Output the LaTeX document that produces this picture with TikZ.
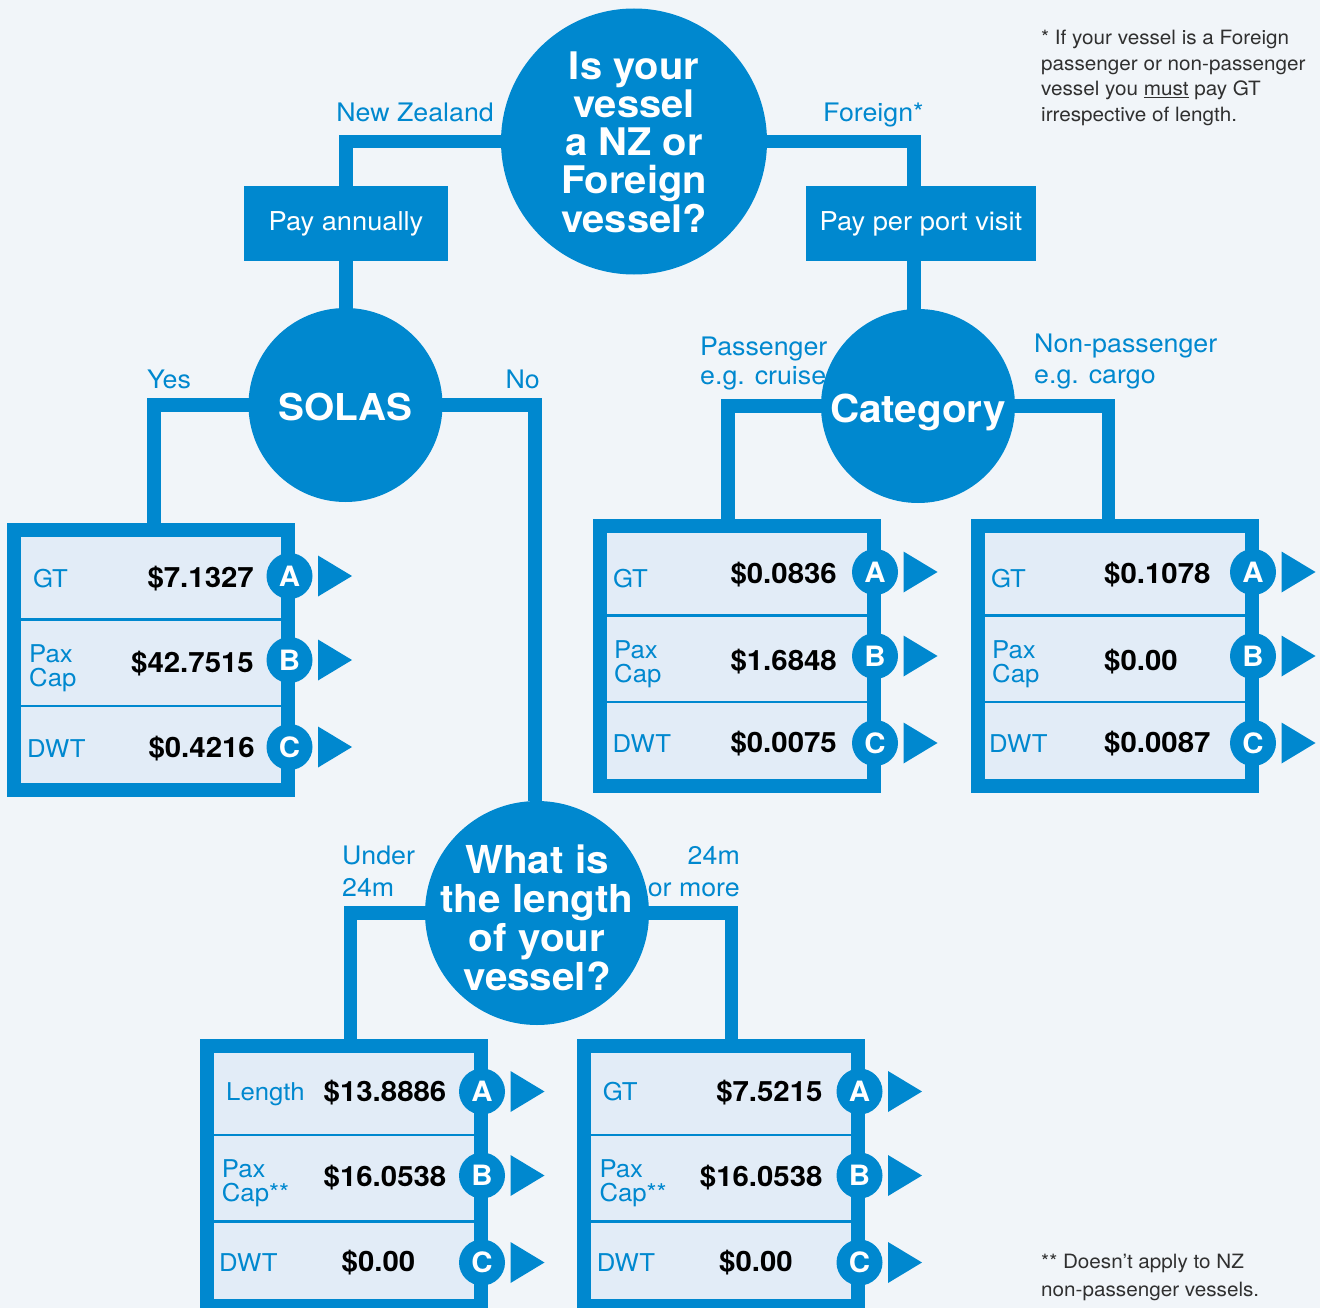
\documentclass[tikz,border=0pt]{standalone}
\usepackage{fontspec}
\setmainfont{TeX Gyre Heros}[FakeStretch=1.05]
\usetikzlibrary{backgrounds}
\definecolor{nzblue}{HTML}{0088CF}
\definecolor{boxfill}{HTML}{E2ECF7}
\definecolor{bgc}{HTML}{F1F5F9}
\definecolor{notec}{HTML}{303030}
\newcommand\fs[2]{\fontsize{#1}{#2}\selectfont}
\newcommand\badgerow{%
  \node[badge] (bA) at (138.5,-84) {A};
  \node[badge] (bB) at (138.5,0) {B};
  \node[badge] (bC) at (138.5,87) {C};
  \fill[nzblue] (167,-104.5) -- (201,-84) -- (167,-63.5) -- cycle;
  \fill[nzblue] (167,-20.5) -- (201,0) -- (167,20.5) -- cycle;
  \fill[nzblue] (167,66.5) -- (201,87) -- (167,107.5) -- cycle;
  \draw[divider] (-131,-40.5) -- (131,-40.5);
  \draw[divider] (-131,46) -- (131,46);
}
\begin{document}
\begin{tikzpicture}[x=1pt,y=-1pt,
  conn/.style={draw=nzblue, line width=13.5pt},
  qcirc/.style={circle, fill=nzblue, inner sep=0pt},
  qtext/.style={text=white, align=center, inner sep=0pt},
  paybox/.style={rectangle, fill=nzblue, inner sep=0pt, text=white, font=\fs{26}{30}},
  lab/.style={text=nzblue, font=\fs{25.5}{30}, inner sep=0pt},
  tbox/.style={rectangle, draw=nzblue, line width=14pt, fill=boxfill, minimum width=274pt, minimum height=260pt, inner sep=0pt},
  rowlab/.style={text=nzblue, font=\fs{24.5}{28}, inner sep=0pt, anchor=base west},
  valr/.style={font=\bfseries\fs{28}{30}, inner sep=0pt, anchor=base east},
  vall/.style={font=\bfseries\fs{28}{30}, inner sep=0pt, anchor=base west},
  badge/.style={circle, fill=nzblue, minimum size=46pt, inner sep=0pt, text=white, font=\bfseries\fs{28}{30}},
  divider/.style={draw=nzblue, line width=2.2pt},
  note/.style={text=notec, font=\fs{19.7}{25.5}, align=left, anchor=north west, inner sep=0pt}
]
\useasboundingbox (0,0) rectangle (1320,1308);

% question circles
\node[qcirc, minimum size=266pt] (q1) at (634,141.5) {};
\node[qtext, font=\bfseries\fs{38}{38.3}] (q1t) at (634,142) {Is your\\vessel\\a NZ or\\Foreign\\vessel?};
\node[qcirc, minimum size=194pt] (solas) at (345.5,405) {};
\node[qtext, font=\bfseries\fs{37}{40}] (solast) at (345.5,407) {SOLAS};
\node[qcirc, minimum size=194pt] (cat) at (918,406) {};
\node[qtext, font=\bfseries\fs{38.5}{40}] (catt) at (918,412) {Category};
\node[qcirc, minimum size=224pt] (len) at (537,913) {};
\node[qtext, font=\bfseries\fs{38.5}{39}] (lent) at (537,918.3) {What is\\the length\\of your\\vessel?};

% pay boxes
\node[paybox, minimum width=204pt, minimum height=75pt] (pa) at (346,223.5) {Pay annually};
\node[paybox, minimum width=230pt, minimum height=75pt] (pv) at (921,223.5) {Pay per port visit};

% branch labels
\node[lab, anchor=base east] (lnz) at (494,122) {New Zealand};
\node[lab, anchor=base west] (lfor) at (823,122) {Foreign*};
\node[lab, anchor=base west] (lyes) at (147,388) {Yes};
\node[lab, anchor=base east] (lno) at (540,388) {No};
\node[lab, anchor=base west] (lpas1) at (700,355) {Passenger};
\node[lab, anchor=base west] (lpas2) at (700,384) {e.g. cruise};
\node[lab, anchor=base west] (lnon1) at (1034,352) {Non-passenger};
\node[lab, anchor=base west] (lnon2) at (1034,383) {e.g. cargo};
\node[lab, anchor=base west] (lund1) at (342,864) {Under};
\node[lab, anchor=base west] (lund2) at (342,896) {24m};
\node[lab, anchor=base east] (lmor1) at (740,864) {24m};
\node[lab, anchor=base east] (lmor2) at (740,896) {or more};

% tables
\node[tbox] (L) at (151,660) {};
\node[tbox] (M) at (736.5,656) {};
\node[tbox] (R) at (1114.5,656) {};
\node[tbox] (BL) at (343.5,1175.5) {};
\node[tbox] (BR) at (721,1175.5) {};

\begin{scope}[shift={(L.center)}, name prefix=L-]
  \badgerow
  \node[rowlab] (lA) at (-118,-73) {GT};
  \node[valr] (vA) at (103,-73) {\$7.1327};
  \node[rowlab] (lB1) at (-122,2.7) {Pax};
  \node[rowlab] (lB2) at (-122,26.7) {Cap};
  \node[valr] (vB) at (103,12) {\$42.7515};
  \node[rowlab] (lC) at (-124,97) {DWT};
  \node[valr] (vC) at (104,97) {\$0.4216};
\end{scope}

\begin{scope}[shift={(M.center)}, name prefix=M-]
  \badgerow
  \node[rowlab] (lA) at (-123.5,-69) {GT};
  \node[valr] (vA) at (100.5,-73) {\$0.0836};
  \node[rowlab] (lB1) at (-122.5,2) {Pax};
  \node[rowlab] (lB2) at (-122.5,26) {Cap};
  \node[valr] (vB) at (100.5,14) {\$1.6848};
  \node[rowlab] (lC) at (-124,96) {DWT};
  \node[valr] (vC) at (100.5,96) {\$0.0075};
\end{scope}

\begin{scope}[shift={(R.center)}, name prefix=R-]
  \badgerow
  \node[rowlab] (lA) at (-123.5,-69) {GT};
  \node[vall] (vA) at (-10.5,-73) {\$0.1078};
  \node[rowlab] (lB1) at (-122.5,2) {Pax};
  \node[rowlab] (lB2) at (-122.5,26) {Cap};
  \node[vall] (vB) at (-10.5,14) {\$0.00};
  \node[rowlab] (lC) at (-125.5,96) {DWT};
  \node[vall] (vC) at (-10.5,96) {\$0.0087};
\end{scope}

\begin{scope}[shift={(BL.center)}, name prefix=BL-]
  \badgerow
  \node[rowlab] (lA) at (-117.5,-75) {Length};
  \node[valr] (vA) at (103,-74) {\$13.8886};
  \node[rowlab] (lB1) at (-121.8,1.5) {Pax};
  \node[rowlab] (lB2) at (-121.8,26) {Cap**};
  \node[valr] (vB) at (103,11) {\$16.0538};
  \node[rowlab] (lC) at (-124.5,96) {DWT};
  \node[vall] (vC) at (-2,96) {\$0.00};
\end{scope}

\begin{scope}[shift={(BR.center)}, name prefix=BR-]
  \badgerow
  \node[rowlab] (lA) at (-118.3,-75) {GT};
  \node[valr] (vA) at (101.7,-74) {\$7.5215};
  \node[rowlab] (lB1) at (-121.7,1.5) {Pax};
  \node[rowlab] (lB2) at (-121.7,26) {Cap**};
  \node[valr] (vB) at (101.7,11) {\$16.0538};
  \node[rowlab] (lC) at (-124.3,96) {DWT};
  \node[vall] (vC) at (-2,96) {\$0.00};
\end{scope}

% notes
\node[note] (n1) at (1041,30) {* If your vessel is a Foreign\\passenger or non-passenger\\vessel you \underline{must} pay GT\\irrespective of length.};
\node[note, font=\fs{19.7}{28}] (n2) at (1041,1254) {** Doesn’t apply to NZ\\non-passenger vessels.};

% background and connectors
\begin{pgfonlayer}{background}
  \fill[bgc] (0,0) rectangle (1320,1308);
  \draw[conn] (q1.center) -| (pa.north);
  \draw[conn] (pa.south) -- (pa.south |- solas.center);
  \draw[conn] (q1.center) -| ([xshift=-7pt]pv.north);
  \draw[conn] ([xshift=-7pt]pv.south) -- ([xshift=-7pt]pv.south |- cat.center);
  \draw[conn] (solas.center) -| ([xshift=3pt]L.north);
  \draw[conn] (solas.center) -| ([xshift=-2pt]len.north);
  \draw[conn] (cat.center) -| ([xshift=-8.5pt]M.north);
  \draw[conn] (cat.center) -| ([xshift=-6pt]R.north);
  \draw[conn] (len.center) -| ([xshift=7pt]BL.north);
  \draw[conn] (len.center) -| ([xshift=10.5pt]BR.north);
\end{pgfonlayer}
\end{tikzpicture}
\end{document}
